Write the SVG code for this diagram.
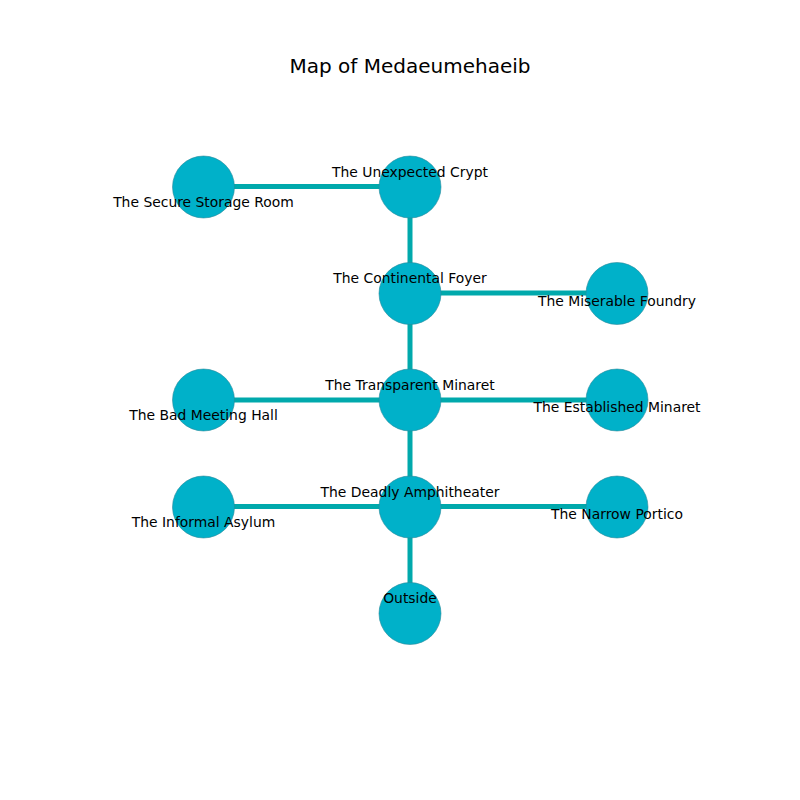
<svg xmlns="http://www.w3.org/2000/svg" width="800" height="800" viewBox="0 0 800 800">
<style>
.e{stroke:#00a9ac;stroke-width:5;fill:none}
.n{fill:#00b1c9;stroke:#2a8a9a;stroke-width:0.6}
text{font-family:"DejaVu Sans",sans-serif;font-size:13.9px;fill:#000;text-anchor:middle}
.t{font-size:20px}
</style>
<rect width="800" height="800" fill="#fff"/>
<text class="t" x="410" y="73">Map of Medaeumehaeib</text>
<g id="connectors">
<line class="e" x1="203" y1="186.5" x2="410" y2="186.5"/>
<line class="e" x1="410" y1="187" x2="410" y2="613"/>
<line class="e" x1="410" y1="293" x2="617" y2="293"/>
<line class="e" x1="203" y1="400" x2="617" y2="400"/>
<line class="e" x1="203" y1="506.5" x2="617" y2="506.5"/>
</g>
<g id="secure"><circle class="n" cx="203.5" cy="187" r="31"/><text x="203.5" y="206.5">The Secure Storage Room</text></g>
<g id="unexpected"><circle class="n" cx="410" cy="187" r="31"/><text x="410" y="176.5">The Unexpected Crypt</text></g>
<g id="continental"><circle class="n" cx="410" cy="293.5" r="31"/><text x="410" y="282.5">The Continental Foyer</text></g>
<g id="miserable"><circle class="n" cx="617" cy="293.5" r="31"/><text x="617" y="305.5">The Miserable Foundry</text></g>
<g id="bad"><circle class="n" cx="203.5" cy="400" r="31"/><text x="203.5" y="419.5">The Bad Meeting Hall</text></g>
<g id="transparent"><circle class="n" cx="410" cy="400" r="31"/><text x="410" y="389.5">The Transparent Minaret</text></g>
<g id="established"><circle class="n" cx="617" cy="400" r="31"/><text x="617" y="411.5">The Established Minaret</text></g>
<g id="informal"><circle class="n" cx="203.5" cy="507" r="31"/><text x="203.5" y="526.5">The Informal Asylum</text></g>
<g id="deadly"><circle class="n" cx="410" cy="507" r="31"/><text x="410" y="496.5">The Deadly Amphitheater</text></g>
<g id="narrow"><circle class="n" cx="617" cy="507" r="31"/><text x="617" y="518.5">The Narrow Portico</text></g>
<g id="outside"><circle class="n" cx="410" cy="613.5" r="31"/><text x="410" y="602.5">Outside</text></g>
</svg>
